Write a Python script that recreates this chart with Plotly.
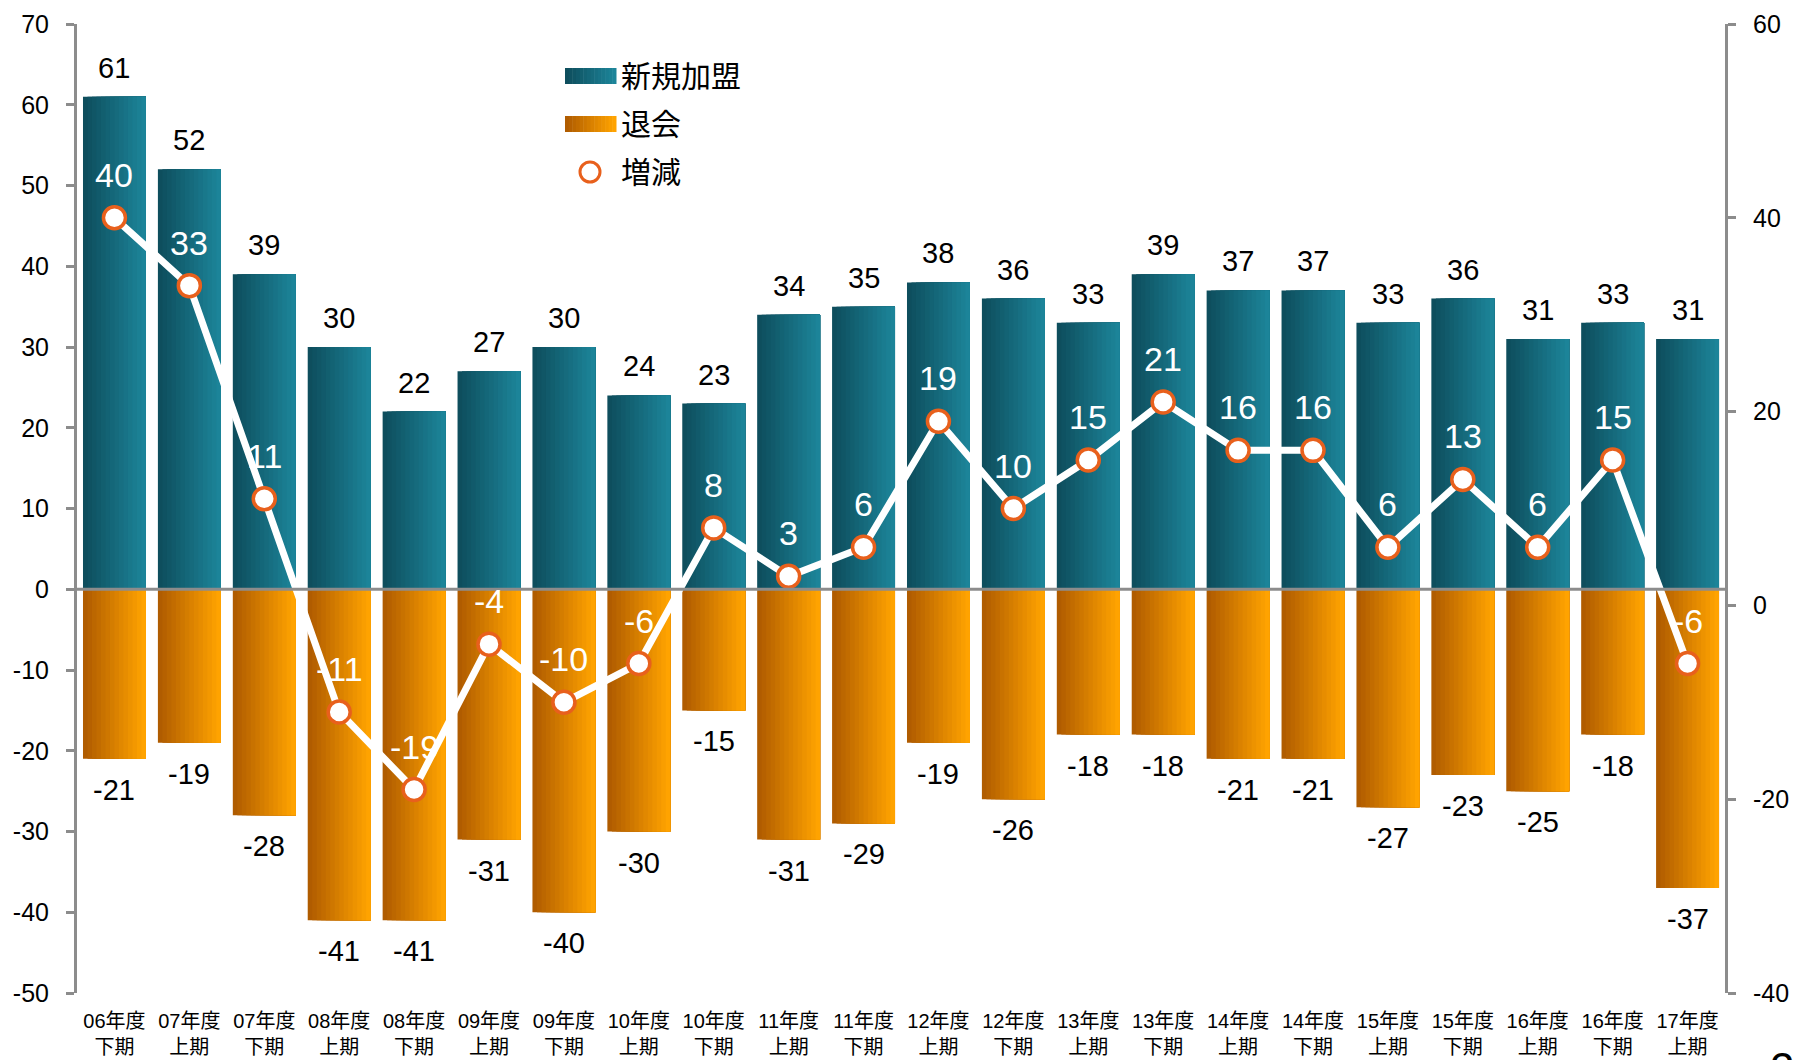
import plotly.graph_objs as go

categories = ['06年度<br>下期', '07年度<br>上期', '07年度<br>下期', '08年度<br>上期', '08年度<br>下期',
              '09年度<br>上期', '09年度<br>下期', '10年度<br>上期', '10年度<br>下期', '11年度<br>上期',
              '11年度<br>下期', '12年度<br>上期', '12年度<br>下期', '13年度<br>上期', '13年度<br>下期',
              '14年度<br>上期', '14年度<br>下期', '15年度<br>上期', '15年度<br>下期', '16年度<br>上期',
              '16年度<br>下期', '17年度<br>上期']
new_members = [61, 52, 39, 30, 22, 27, 30, 24, 23, 34, 35, 38, 36, 33, 39, 37, 37, 33, 36, 31, 33, 31]
withdrawals = [-21, -19, -28, -41, -41, -31, -40, -30, -15, -31, -29, -19, -26, -18, -18, -21, -21, -27, -23, -25, -18, -37]
net_change = [40, 33, 11, -11, -19, -4, -10, -6, 8, 3, 6, 19, 10, 15, 21, 16, 16, 6, 13, 6, 15, -6]
left_ticks = [70, 60, 50, 40, 30, 20, 10, 0, -10, -20, -30, -40, -50]
right_ticks = [60, 40, 20, 0, -20, -40]

FONT = 'Liberation Sans, Arial, Noto Sans CJK JP, sans-serif'
AXIS_GRAY = '#8c8c8c'
TEAL = ((14, 78, 93), (28, 132, 153))
ORANGE = ((176, 92, 0), (255, 163, 0))
N_STRIPES = 14
BAR_W = 0.84

W, H = 1793, 1060
ML, MR, MT, MB = 77, 68, 24, 67


def lerp(pair, t):
    c0, c1 = pair
    return 'rgb(%d,%d,%d)' % tuple(round(a + (b - a) * t) for a, b in zip(c0, c1))


def px_x(px):
    return (px - ML) / (W - ML - MR)


def px_y(py):
    return (H - MB - py) / (H - MT - MB)


fig = go.Figure()

# gradient bars: overlapping stripes, dark on the left -> light on the right
for values, pal in [(new_members, TEAL), (withdrawals, ORANGE)]:
    for i in range(N_STRIPES):
        t = i / (N_STRIPES - 1)
        fig.add_trace(go.Bar(
            x=categories, y=values,
            offset=-BAR_W / 2 + BAR_W * i / N_STRIPES,
            width=BAR_W * (N_STRIPES - i) / N_STRIPES,
            marker_color=lerp(pal, t), marker_line_width=0,
            showlegend=False, hoverinfo='skip' if i else 'y',
        ))

fig.add_trace(go.Scatter(
    x=categories, y=net_change, yaxis='y2',
    mode='lines+markers',
    line=dict(color='white', width=7),
    marker=dict(size=22, color='white', line=dict(color='#e8601c', width=3.5)),
    showlegend=False,
))

annotations = []
for c, v in zip(categories, new_members):
    annotations.append(dict(x=c, y=v, yref='y', text=str(v), showarrow=False, yshift=29,
                            font=dict(size=29, color='black', family=FONT)))
for c, v in zip(categories, withdrawals):
    annotations.append(dict(x=c, y=v, yref='y', text=str(v), showarrow=False, yshift=-31,
                            font=dict(size=29, color='black', family=FONT)))
for c, v in zip(categories, net_change):
    annotations.append(dict(x=c, y=v, yref='y2', text=str(v), showarrow=False, yshift=43,
                            font=dict(size=34, color='white', family=FONT)))

# hand-made legend
shapes = []
for (y0, y1), pal in [((68, 84), TEAL), ((116, 132), ORANGE)]:
    x0, x1 = 565, 616
    for i in range(N_STRIPES):
        a = x0 + (x1 - x0) * i / N_STRIPES
        b = x0 + (x1 - x0) * (i + 1) / N_STRIPES + 0.5
        shapes.append(dict(type='rect', xref='paper', yref='paper',
                           x0=px_x(a), x1=px_x(b), y0=px_y(y1), y1=px_y(y0),
                           fillcolor=lerp(pal, i / (N_STRIPES - 1)), line_width=0, layer='above'))
shapes.append(dict(type='circle', xref='paper', yref='paper',
                   x0=px_x(580), x1=px_x(600), y0=px_y(182), y1=px_y(162),
                   fillcolor='white', line=dict(color='#e8601c', width=3), layer='above'))
for txt, py in [('新規加盟', 76), ('退会', 124), ('増減', 172)]:
    annotations.append(dict(xref='paper', yref='paper', x=px_x(619), y=px_y(py), text=txt,
                            xanchor='left', yanchor='middle', showarrow=False,
                            font=dict(size=30, color='black', family=FONT)))

# zero line over the bars
shapes.append(dict(type='line', xref='paper', yref='y', x0=0, x1=1, y0=0, y1=0,
                   line=dict(color=AXIS_GRAY, width=3), layer='above'))

# page number peeking in at the corner
annotations.append(dict(xref='paper', yref='paper', x=px_x(1768), y=px_y(1042), text='2',
                        xanchor='left', yanchor='top', showarrow=False,
                        font=dict(size=44, color='black', family=FONT)))

axis_common = dict(showgrid=False, zeroline=False, showline=True, linecolor=AXIS_GRAY, linewidth=3,
                   ticks='outside', ticklen=8, tickwidth=3, tickcolor=AXIS_GRAY,
                   tickfont=dict(size=25, color='black', family=FONT), ticklabelstandoff=12,
                   fixedrange=True)

fig.update_layout(
    width=W, height=H,
    margin=dict(l=ML, r=MR, t=MT, b=MB),
    paper_bgcolor='white', plot_bgcolor='white',
    barmode='overlay',
    showlegend=False,
    font=dict(family=FONT, color='black'),
    xaxis=dict(type='category', range=[-0.5, len(categories) - 0.5], showline=False, ticks='',
               showgrid=False, tickfont=dict(size=20, color='black', family=FONT),
               ticklabelstandoff=14, automargin=False, fixedrange=True),
    yaxis=dict(range=[-50, 70], tickvals=left_ticks, ticktext=[str(v) for v in left_ticks],
               automargin=False, **axis_common),
    yaxis2=dict(range=[-40, 60], tickvals=right_ticks, ticktext=[str(v) for v in right_ticks],
                overlaying='y', side='right', automargin=False, **axis_common),
    annotations=annotations,
    shapes=shapes,
)

fig.write_html("out.html", config={'displayModeBar': False},
               post_script="document.body.style.margin='0';document.body.style.overflow='hidden';")
